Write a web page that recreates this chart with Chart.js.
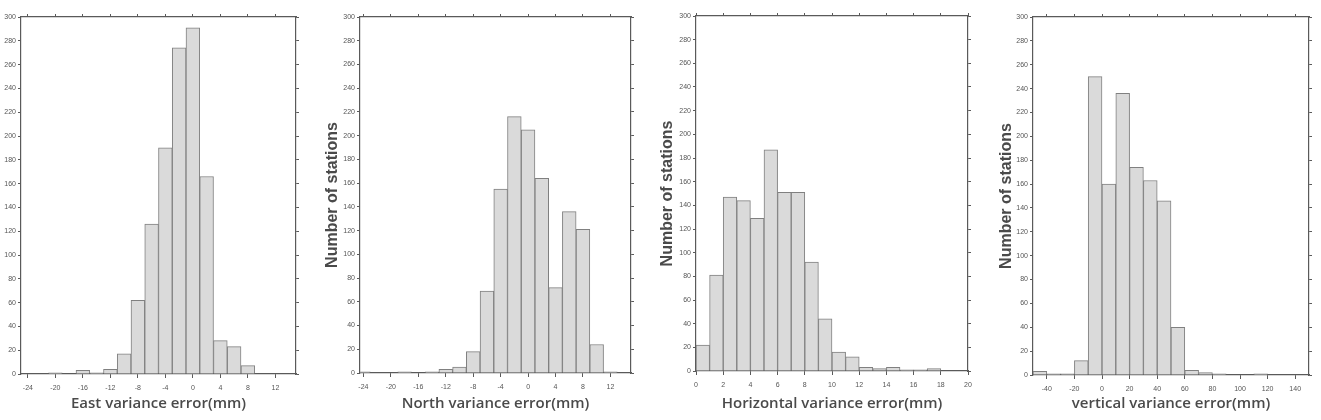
<!DOCTYPE html>
<html>
<head>
<meta charset="utf-8">
<script src="https://cdn.jsdelivr.net/npm/chart.js@4/dist/chart.umd.min.js"></script>
<style>
  html, body { margin: 0; padding: 0; background: #fff; }
  body { width: 1321px; height: 420px; position: relative; overflow: hidden; }
  .panel { position: absolute; top: 0; height: 420px; }
</style>
</head>
<body>
<div class="panel" id="p1"><canvas id="c1" width="306" height="420"></canvas></div>
<div class="panel" id="p2"><canvas id="c2" width="331" height="420"></canvas></div>
<div class="panel" id="p3"><canvas id="c3" width="333" height="420"></canvas></div>
<div class="panel" id="p4"><canvas id="c4" width="335" height="420"></canvas></div>
<script>
// bin centres and station counts
const eastBins = [-24, -22, -20, -18, -16, -14, -12, -10, -8, -6, -4, -2, 0, 2, 4, 6, 8, 10, 12, 14];
const eastCounts = [0, 0, 1, 0, 3, 1, 4, 17, 62, 126, 190, 274, 291, 166, 28, 23, 7, 0, 0, 0];

const northBins = [-24, -22, -20, -18, -16, -14, -12, -10, -8, -6, -4, -2, 0, 2, 4, 6, 8, 10, 12];
const northCounts = [1, 0, 0, 1, 0, 1, 3, 5, 18, 69, 155, 216, 205, 164, 72, 136, 121, 24, 1];

const horizBins = [0.5, 1.5, 2.5, 3.5, 4.5, 5.5, 6.5, 7.5, 8.5, 9.5, 10.5, 11.5, 12.5, 13.5, 14.5, 15.5, 16.5, 17.5, 18.5];
const horizCounts = [22, 81, 147, 144, 129, 187, 151, 151, 92, 44, 16, 12, 3, 2, 3, 1, 1, 2, 0];

const vertBins = [-45, -35, -25, -15, -5, 5, 15, 25, 35, 45, 55, 65, 75, 85, 95, 105, 115, 125, 135, 145];
const vertCounts = [3, 1, 1, 12, 250, 160, 236, 174, 163, 146, 40, 4, 2, 1, 0, 0, 1, 0, 0, 0];

// tick labels
const eastTicks = [-24, -20, -16, -12, -8, -4, 0, 4, 8, 12];
const northTicks = [-24, -20, -16, -12, -8, -4, 0, 4, 8, 12];
const horizTicks = [0, 2, 4, 6, 8, 10, 12, 14, 16, 18, 20];
const vertTicks = [-40, -20, 0, 20, 40, 60, 80, 100, 120, 140];
const countTicks = [0, 20, 40, 60, 80, 100, 120, 140, 160, 180, 200, 220, 240, 260, 280, 300];

const axisColor = "#5a5a5a";
const tickFont = { family: "Liberation Sans", size: 7 };

function makeHist(id, box, bins, counts, xTicks, xMin, xMax, xTitle, showY) {
  const div = document.getElementById(id).parentNode;
  div.style.left = box.left + "px";

  const fixTicks = vals => scale => { scale.ticks = vals.map(v => ({ value: v })); };
  const edge = { display: true, color: axisColor, width: 1.2 };

  new Chart(document.getElementById(id), {
    type: "bar",
    data: {
      datasets: [{
        data: bins.map((b, i) => ({ x: b, y: counts[i] })),
        backgroundColor: "#dadada",
        borderColor: "#808080",
        borderWidth: 1,
        barPercentage: 1,
        categoryPercentage: 1,
      }],
    },
    options: {
      responsive: false,
      animation: false,
      layout: { padding: 0 },
      plugins: { legend: { display: false }, tooltip: { enabled: false } },
      scales: {
        x: {
          type: "linear", position: "bottom", min: xMin, max: xMax, offset: false,
          afterBuildTicks: fixTicks(xTicks),
          afterFit: s => { s.height = box.bottom; },
          border: edge,
          grid: { drawOnChartArea: false, offset: false, tickLength: 4, color: axisColor },
          ticks: { font: tickFont, color: "#555", padding: 6, maxRotation: 0, autoSkip: false },
          title: {
            display: true, text: xTitle, color: "#4a4a4a",
            font: { family: "Open Sans", size: 15, weight: "600" },
            padding: { top: 0, bottom: 7 },
          },
        },
        xTop: {
          type: "linear", position: "top", min: xMin, max: xMax, offset: false,
          afterBuildTicks: fixTicks(xTicks),
          afterFit: s => { s.height = box.top; },
          border: edge,
          grid: { drawOnChartArea: false, offset: false, tickLength: 3, color: axisColor },
          ticks: { display: false },
        },
        y: {
          position: "left", min: 0, max: 300,
          afterBuildTicks: fixTicks(countTicks),
          afterFit: s => { s.width = box.yw; },
          border: edge,
          grid: { drawOnChartArea: false, tickLength: 3, color: axisColor },
          ticks: { font: tickFont, color: "#555", padding: 2 },
          title: {
            display: showY, text: "Number of stations", color: "#4a4a4a",
            font: { family: "Liberation Sans", size: 16, weight: "bold" },
            padding: { top: 13, bottom: 0 },
          },
        },
        yRight: {
          position: "right", min: 0, max: 300,
          afterBuildTicks: fixTicks(countTicks),
          afterFit: s => { s.width = 10; },
          border: edge,
          grid: { drawOnChartArea: false, tickLength: 3, color: axisColor },
          ticks: { display: false },
        },
      },
    },
  });
}

makeHist("c1", { left: 0, yw: 21, top: 17, bottom: 46 }, eastBins, eastCounts, eastTicks, -25, 15, "East variance error(mm)", false);
makeHist("c2", { left: 310, yw: 50, top: 17, bottom: 47 }, northBins, northCounts, northTicks, -24.5, 15, "North variance error(mm)", true);
makeHist("c3", { left: 645, yw: 51, top: 16, bottom: 49 }, horizBins, horizCounts, horizTicks, 0, 20, "Horizontal variance error(mm)", true);
makeHist("c4", { left: 984, yw: 49, top: 17, bottom: 45 }, vertBins, vertCounts, vertTicks, -50, 150, "vertical variance error(mm)", true);
</script>
</body>
</html>
